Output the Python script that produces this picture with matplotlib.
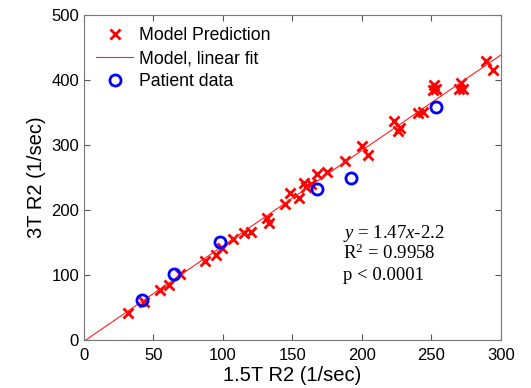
import matplotlib
matplotlib.use("Agg")
import matplotlib.pyplot as plt
import numpy as np

# Model prediction points (1.5T R2, 3T R2)
model_x = [32, 43, 55, 61, 69, 87, 95, 99, 107, 115, 120, 132, 133, 145, 148,
           155, 158, 160, 163, 168, 175, 188, 200, 204, 223, 226, 227, 240, 244,
           251, 252, 253, 270, 271, 273, 289, 294]
model_y = [42, 59, 77, 85, 101, 122, 130, 141, 155, 164, 166, 187, 180, 209, 226,
           218, 241, 236, 240, 255, 259, 276, 299, 285, 337, 322, 326, 350, 351,
           385, 392, 387, 387, 395, 386, 430, 416]

# Patient data
patient_x = [42, 65, 98, 168, 192, 253]
patient_y = [61, 101, 150, 232, 250, 359]

# Linear fit of the model
slope = 1.47
intercept = -2.2
fit_x = [0, 300]

plt.rcParams['font.family'] = ['Liberation Sans', 'DejaVu Sans']
plt.rcParams['mathtext.fontset'] = 'custom'
plt.rcParams['mathtext.rm'] = 'Liberation Serif'
plt.rcParams['mathtext.it'] = 'Liberation Serif:italic'

fig = plt.figure(figsize=(5.31, 3.88), dpi=100)
ax = fig.add_axes([0.158, 0.124, 0.7855, 0.837])

ax.plot(model_x, model_y, 'x', color='red', markersize=6.5, markeredgewidth=2,
        label='Model Prediction')
fit_y = [slope * v + intercept for v in fit_x]
ax.plot(fit_x, fit_y, '-', color='#ff2020', linewidth=0.8, label='Model, linear fit')
ax.plot(patient_x, patient_y, 'o', markerfacecolor='none', markeredgecolor='blue',
        markersize=8, markeredgewidth=2, label='Patient data')

ax.set_xlim(0, 300)
ax.set_ylim(0, 500)
ax.set_xticks(np.arange(0, 301, 50))
ax.set_yticks(np.arange(0, 501, 100))
ax.tick_params(direction='in', top=True, right=True, labelsize=12,
               length=4, color='#555555')
ax.tick_params(axis='x', pad=6)
for s in ax.spines.values():
    s.set_color('#777777')

ax.set_xlabel('1.5T R2 (1/sec)', fontsize=14.5, labelpad=2)
ax.set_ylabel('3T R2 (1/sec)', fontsize=14.5, labelpad=4)

ax.legend(loc='upper left', frameon=False, fontsize=12.7, handlelength=2.1,
          labelspacing=0.34, handletextpad=0.3, borderaxespad=0.3)

serif = ['Liberation Serif', 'DejaVu Serif']
ax.text(186, 164, r'$y$ = 1.47$x$-2.2', fontsize=13.5, family=serif, va='center')
ax.text(186, 134, r'R$^2$ = 0.9958', fontsize=13.5, family=serif, va='center')
ax.text(186, 99, 'p < 0.0001', fontsize=13.5, family=serif, va='center')

fig.savefig('out.png', dpi=100)
